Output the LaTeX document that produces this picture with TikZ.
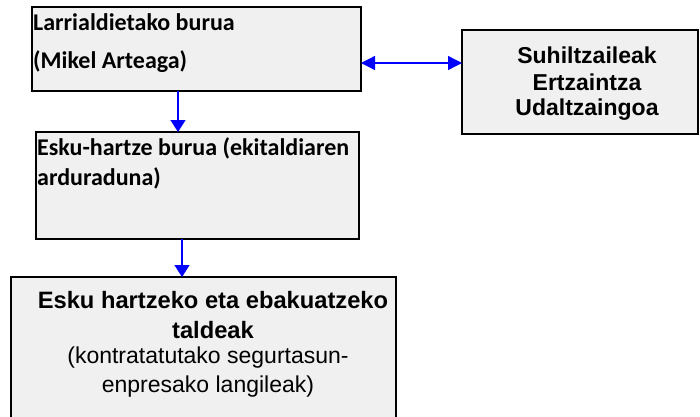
\documentclass[tikz,border=0pt]{standalone}
\usepackage{fontspec}
\newfontfamily\calfont{Carlito}
\newfontfamily\arfont{Liberation Sans}
\usetikzlibrary{arrows.meta}
\definecolor{boxfill}{HTML}{F0F0F0}
\definecolor{arrblue}{HTML}{0000FF}
\tikzset{
  box/.style={draw=black, line width=1.5pt, fill=boxfill, inner sep=0pt, outer sep=0pt},
  caltext/.style={font=\calfont\bfseries\fontsize{24}{28}\selectfont, anchor=base west, inner sep=0pt},
  arbold/.style={font=\arfont\bfseries\fontsize{23}{27}\selectfont, anchor=base, inner sep=0pt},
  arboldb/.style={font=\arfont\bfseries\fontsize{23.7}{27}\selectfont, anchor=base, inner sep=0pt},
  arreg/.style={font=\arfont\fontsize{23}{27}\selectfont, anchor=base, inner sep=0pt},
  arr/.style={draw=arrblue, line width=1.3pt, -{Triangle[width=15pt,length=12pt]}},
  darr/.style={draw=arrblue, line width=1.3pt, {Triangle[width=14pt,length=14pt]}-{Triangle[width=14pt,length=14pt]}}
}
\begin{document}
\begin{tikzpicture}[x=1pt,y=-1pt]
\useasboundingbox[fill=white] (0,0) rectangle (700,416);
% boxes
\node[box, minimum width=329pt, minimum height=84pt] (b1) at (196.5,49) {};
\node[box, minimum width=236pt, minimum height=104pt] (b2) at (580,82) {};
\node[box, minimum width=323pt, minimum height=107pt] (b3) at (197.5,185.5) {};
\node[box, minimum width=385pt, minimum height=148pt] (b4) at (203.5,351) {};
% texts
\node[caltext] (t1a) at (33,30) {Larrialdietako burua};
\node[caltext] (t1b) at (33,68) {(Mikel Arteaga)};
\node[arbold] (t2a) at (587,63) {Suhiltzaileak};
\node[arbold] (t2b) at (587,90) {Ertzaintza};
\node[arbold] (t2c) at (587,115) {Udaltzaingoa};
\node[caltext] (t3a) at (37,155) {Esku-hartze burua (ekitaldiaren};
\node[caltext] (t3b) at (37,185) {arduraduna)};
\node[arboldb] (t4a) at (213,308) {Esku hartzeko eta ebakuatzeko};
\node[arboldb] (t4b) at (213,338) {taldeak};
\node[arreg] (t4c) at (208,363) {(kontratatutako segurtasun-};
\node[arreg] (t4d) at (208,392) {enpresako langileak)};
% connectors
\draw[arr] ([xshift=-18.5pt]b1.south) -- ([xshift=-18.5pt]b1.south |- b3.north);
\draw[arr] ([xshift=-15.5pt]b3.south) -- ([xshift=-15.5pt]b3.south |- b4.north);
\draw[darr] ([yshift=-14pt]b1.east) -- ([yshift=-14pt]b1.east -| b2.west);
\end{tikzpicture}
\end{document}
